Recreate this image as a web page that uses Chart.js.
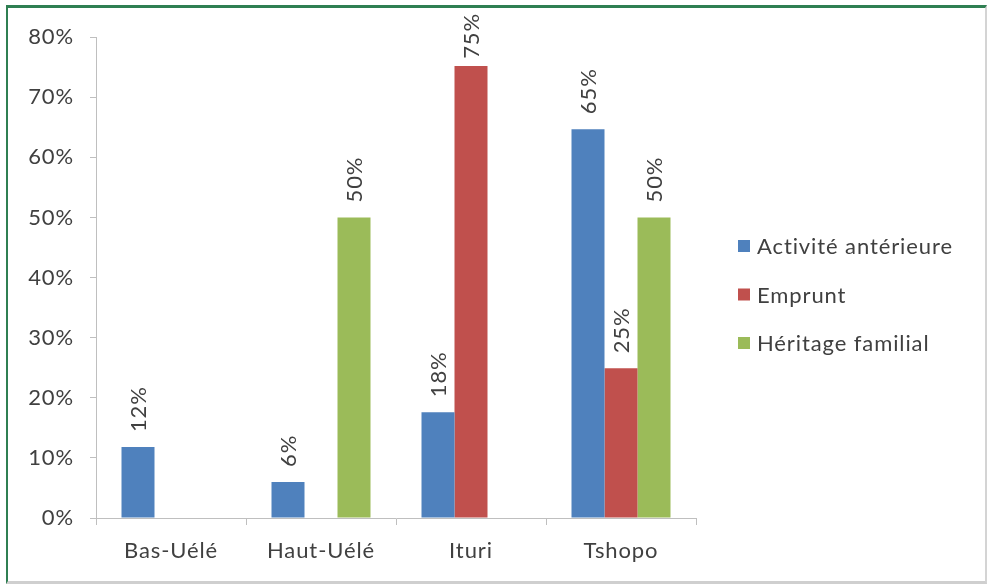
<!DOCTYPE html>
<html>
<head>
<meta charset="utf-8">
<script src="https://cdn.jsdelivr.net/npm/chart.js@4"></script>
<style>
  html, body { margin: 0; padding: 0; background: #ffffff; }
  #frame {
    position: absolute; left: 6px; top: 5px;
    width: 977px; height: 573px;
    border-top: 3px solid #2f7f52;
    border-left: 2px solid #2f7f52;
    border-right: 2px solid #d4d4d4;
    border-bottom: 3px solid #cfcfcf;
    background: #ffffff;
  }
  #c { display: block; }
</style>
</head>
<body>
<div id="frame"><canvas id="c" width="977" height="573"></canvas></div>
<script>
const categories = ['Bas-Uélé', 'Haut-Uélé', 'Ituri', 'Tshopo'];
const seriesNames = ['Activité antérieure', 'Emprunt', 'Héritage familial'];
const activiteAnterieure = [11.8, 6.0, 17.6, 64.7];
const emprunt = [0, 0, 75.2, 24.9];
const heritageFamilial = [0, 50.0, 0, 50.0];
const yTicks = [0, 10, 20, 30, 40, 50, 60, 70, 80];

const FONT = 'Lato, "Open Sans", sans-serif';
const TXT = '#404040';
const SPACING = '0.9px';
const FS = 22;

const wideText = {
  id: 'wideText',
  beforeDraw(chart) {
    if ('letterSpacing' in chart.ctx) chart.ctx.letterSpacing = SPACING;
  }
};

const barLabels = {
  id: 'barLabels',
  afterDatasetsDraw(chart) {
    const ctx = chart.ctx;
    ctx.save();
    if ('letterSpacing' in ctx) ctx.letterSpacing = SPACING;
    ctx.font = FS + 'px ' + FONT;
    ctx.fillStyle = TXT;
    ctx.textAlign = 'left';
    ctx.textBaseline = 'middle';
    chart.data.datasets.forEach((ds, di) => {
      const meta = chart.getDatasetMeta(di);
      meta.data.forEach((bar, i) => {
        const v = ds.data[i];
        if (!v) return;
        const txt = Math.round(v) + '%';
        const w = ctx.measureText(txt).width;
        let start = bar.y - 15;
        if (start - w < 5) start = 5 + w;
        ctx.save();
        ctx.translate(bar.x + 1, start);
        ctx.rotate(-Math.PI / 2);
        ctx.fillText(txt, 0, 0);
        ctx.restore();
      });
    });
    ctx.restore();
  }
};

const sideLegend = {
  id: 'sideLegend',
  afterDraw(chart) {
    const ctx = chart.ctx;
    ctx.save();
    if ('letterSpacing' in ctx) ctx.letterSpacing = SPACING;
    ctx.font = FS + 'px ' + FONT;
    ctx.textAlign = 'left';
    ctx.textBaseline = 'middle';
    const x0 = 730, y0 = 238, step = 48.5;
    chart.data.datasets.forEach((ds, i) => {
      const y = y0 + i * step;
      ctx.fillStyle = ds.backgroundColor;
      ctx.fillRect(x0, y - 6, 12, 12);
      ctx.fillStyle = TXT;
      ctx.fillText(ds.label, x0 + 19, y + 1);
    });
    ctx.restore();
  }
};

new Chart(document.getElementById('c'), {
  type: 'bar',
  data: {
    labels: categories,
    datasets: [
      { label: seriesNames[0], data: activiteAnterieure, backgroundColor: '#4f81bd' },
      { label: seriesNames[1], data: emprunt, backgroundColor: '#c0504d' },
      { label: seriesNames[2], data: heritageFamilial, backgroundColor: '#9bbb59' }
    ]
  },
  options: {
    responsive: false,
    animation: false,
    devicePixelRatio: 1,
    layout: { padding: { top: 28, right: 289, bottom: 0, left: 0 } },
    datasets: { bar: { categoryPercentage: 0.66, barPercentage: 1.0 } },
    plugins: {
      legend: { display: false },
      tooltip: { enabled: false }
    },
    scales: {
      x: {
        offset: true,
        grid: { display: true, drawOnChartArea: false, drawTicks: true, tickLength: 7, offset: true, color: '#bfbfbf', lineWidth: 1 },
        border: { display: true, color: '#bfbfbf', width: 1 },
        ticks: { font: { family: FONT, size: FS }, color: TXT, padding: 13, maxRotation: 0 },
        afterFit(scale) { scale.height = 63; }
      },
      y: {
        min: 0, max: 80,
        afterBuildTicks(scale) { scale.ticks = yTicks.map(v => ({ value: v })); },
        grid: { display: true, drawOnChartArea: false, drawTicks: true, tickLength: 6, color: '#bfbfbf', lineWidth: 1 },
        border: { display: true, color: '#bfbfbf', width: 1 },
        ticks: { font: { family: FONT, size: FS }, color: TXT, padding: 16, callback: v => v + '%' },
        afterFit(scale) { scale.width = 88; }
      }
    }
  },
  plugins: [wideText, barLabels, sideLegend]
});
</script>
</body>
</html>
